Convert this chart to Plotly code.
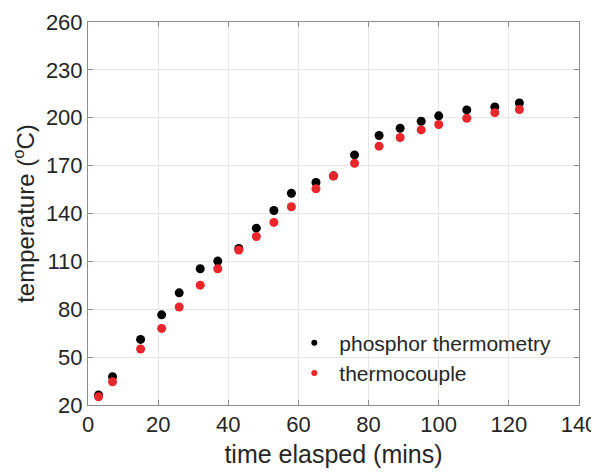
import plotly.graph_objects as go

# readings taken from the figure
time_phosphor = [3, 7, 15, 21, 26, 32, 37, 43, 48, 53, 58, 65, 70, 76, 83, 89, 95, 100, 108, 116, 123]
temp_phosphor = [26.3, 37.7, 61.1, 76.5, 90.3, 105.4, 110.2, 118.1, 130.8, 141.9, 152.7,
                 159.4, 163.6, 176.7, 188.9, 193.4, 197.8, 201.2, 204.9, 206.8, 209.3]

time_tc = [3, 7, 15, 21, 26, 32, 37, 43, 48, 53, 58, 65, 70, 76, 83, 89, 95, 100, 108, 116, 123]
temp_tc = [25.2, 34.6, 55.1, 68.0, 81.4, 95.1, 105.4, 117.1, 125.6, 134.4, 144.2,
           155.5, 163.5, 171.5, 182.2, 187.6, 192.4, 195.8, 199.7, 203.2, 205.2]

x_ticks = [0, 20, 40, 60, 80, 100, 120, 140]
y_ticks = [20, 50, 80, 110, 140, 170, 200, 230, 260]

txt = "#262626"
font = "Liberation Sans, Arial, sans-serif"
black = "black"
red = "#e8262b"

fig = go.Figure()
fig.add_trace(go.Scatter(x=time_phosphor, y=temp_phosphor, mode="markers",
                         showlegend=False, marker=dict(color=black, size=9)))
fig.add_trace(go.Scatter(x=time_tc, y=temp_tc, mode="markers",
                         showlegend=False, marker=dict(color=red, size=9)))
# legend-only entries, with the smaller symbols the reference legend uses
fig.add_trace(go.Scatter(x=[None], y=[None], mode="markers", name="phosphor thermometry",
                         marker=dict(color=black, size=6)))
fig.add_trace(go.Scatter(x=[None], y=[None], mode="markers", name="thermocouple",
                         marker=dict(color=red, size=6)))

axis_common = dict(
    showline=True, linecolor="#8c8c8c", linewidth=1, mirror="ticks",
    ticks="inside", ticklen=5, tickcolor="#8c8c8c",
    showgrid=True, gridcolor="#e6e6e6", gridwidth=1,
    zeroline=False, automargin=False, ticklabeloverflow="allow",
    tickfont=dict(size=22, color=txt, family=font),
)

fig.update_xaxes(range=[0, 140], tickvals=x_ticks,
                 title=dict(text="time elasped (mins)", font=dict(size=25, color=txt, family=font),
                            standoff=9),
                 **axis_common)
fig.update_yaxes(range=[20, 260], tickvals=y_ticks,
                 title=dict(text="temperature (<sup>o</sup>C)", font=dict(size=24, color=txt, family=font),
                            standoff=4),
                 **axis_common)

# white legend box that hides the gridlines behind it
fig.add_shape(type="rect", xref="paper", yref="paper",
              x0=0.403, x1=0.996, y0=0.004, y1=0.204,
              fillcolor="white", line=dict(width=0), layer="between")

# the page body adds an 8px offset, so margins are trimmed to put the
# plot area where the reference has it
fig.update_layout(
    width=599, height=474,
    margin=dict(l=80, r=28, t=14, b=77),
    plot_bgcolor="white", paper_bgcolor="white",
    font=dict(family=font, color=txt),
    legend=dict(x=0.41, y=0.215, xanchor="left", yanchor="top",
                bgcolor="rgba(255,255,255,0)", borderwidth=0,
                font=dict(size=21, color=txt, family=font),
                itemwidth=40, tracegroupgap=0),
    showlegend=True,
)

fig.write_html("out.html")
